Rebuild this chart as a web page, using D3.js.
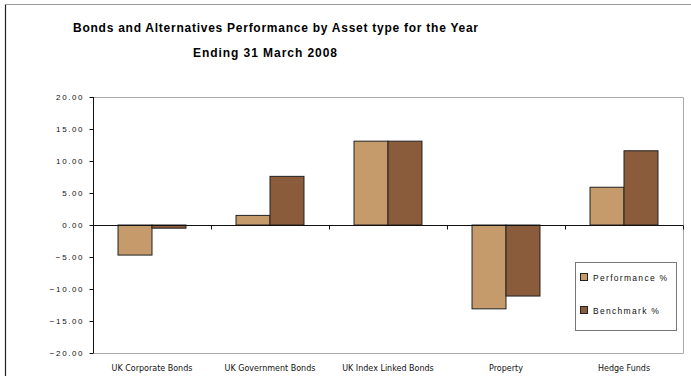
<!DOCTYPE html>
<html>
<head>
<meta charset="utf-8">
<script src="https://cdn.jsdelivr.net/npm/d3@7/dist/d3.min.js"></script>
<style>
  html, body { margin: 0; padding: 0; background: #fff; }
  svg { display: block; }
</style>
</head>
<body>
<svg id="chart" width="691" height="376"></svg>
<script>
// Asset classes and returns for the year to 31 March 2008
const categories = ["UK Corporate Bonds", "UK Government Bonds", "UK Index Linked Bonds", "Property", "Hedge Funds"];
const performance = [-4.7, 1.5, 13.1, -13.1, 5.9];
const benchmark = [-0.5, 7.6, 13.1, -11.1, 11.6];
const seriesNames = ["Performance %", "Benchmark %"];
const seriesColors = ["#C59B6B", "#8A5C3B"];
const yTicks = [20, 15, 10, 5, 0, -5, -10, -15, -20];
const titleLines = ["Bonds and Alternatives Performance by Asset type for the Year", "Ending 31 March 2008"];

const svg = d3.select("#chart");
const plot = { left: 93, right: 683, top: 97, bottom: 353 };

// Outer frame
svg.append("line").attr("x1", 5.5).attr("x2", 5.5).attr("y1", 4).attr("y2", 376)
  .attr("stroke", "#222").attr("stroke-width", 1.2);
svg.append("line").attr("x1", 5).attr("x2", 691).attr("y1", 4.5).attr("y2", 4.5)
  .attr("stroke", "#999").attr("stroke-width", 1);

// Title
svg.append("text").attr("x", 73).attr("y", 32)
  .attr("textLength", 405).attr("lengthAdjust", "spacing")
  .style("font-family", "'Liberation Sans', Arial, sans-serif")
  .style("font-weight", "bold").style("font-size", "12px").attr("fill", "#000")
  .text(titleLines[0]);
svg.append("text").attr("x", 193).attr("y", 57)
  .attr("textLength", 144).attr("lengthAdjust", "spacing")
  .style("font-family", "'Liberation Sans', Arial, sans-serif")
  .style("font-weight", "bold").style("font-size", "12px").attr("fill", "#000")
  .text(titleLines[1]);

// Scales
const x0 = d3.scaleBand().domain(categories).range([plot.left, plot.right])
  .paddingInner(0.424).paddingOuter(0.212);
const x1 = d3.scaleBand().domain(seriesNames).range([0, x0.bandwidth()]);
const y = d3.scaleLinear().domain([-20, 20]).range([plot.bottom, plot.top]);

// Plot area border (top, right, bottom)
svg.append("path")
  .attr("d", `M${plot.left},${plot.top + 0.5}H${plot.right + 0.5}V${plot.bottom + 0.5}H${plot.left}`)
  .attr("fill", "none").attr("stroke", "#aaa").attr("stroke-width", 1);

// Bars
const rows = categories.map((c, i) => ({ cat: c, values: [performance[i], benchmark[i]] }));
const groups = svg.append("g").selectAll("g").data(rows).join("g")
  .attr("transform", d => `translate(${x0(d.cat)},0)`);
groups.selectAll("rect")
  .data(d => d.values.map((v, j) => ({ v, name: seriesNames[j], color: seriesColors[j] })))
  .join("rect")
  .attr("x", d => x1(d.name))
  .attr("width", x1.bandwidth())
  .attr("y", d => Math.min(y(d.v), y(0)))
  .attr("height", d => Math.abs(y(d.v) - y(0)))
  .attr("fill", d => d.color)
  .attr("stroke", "#222").attr("stroke-width", 1);

// Zero line with category separators
const zeroY = Math.round(y(0)) + 0.5;
svg.append("line").attr("x1", plot.left).attr("x2", plot.right)
  .attr("y1", zeroY).attr("y2", zeroY).attr("stroke", "#111").attr("stroke-width", 1);
const step = x0.step();
d3.range(1, categories.length + 1).forEach(k => {
  const xx = Math.round(plot.left + k * step) + 0.5;
  svg.append("line").attr("x1", xx).attr("x2", xx).attr("y1", zeroY).attr("y2", zeroY + 4)
    .attr("stroke", "#111").attr("stroke-width", 1);
});

// Y axis
const yAxis = svg.append("g").attr("transform", `translate(${plot.left + 0.5},0)`)
  .call(d3.axisLeft(y).tickValues(yTicks).tickSize(4).tickPadding(7).tickFormat(d3.format(".2f")));
yAxis.select(".domain").attr("stroke", "#111").attr("d", `M0,${plot.top}V${plot.bottom}`);
yAxis.selectAll(".tick line").attr("stroke", "#111");
yAxis.selectAll(".tick text")
  .style("font-family", "'Liberation Sans', Arial, sans-serif")
  .style("font-size", "8px").style("letter-spacing", "1.6px")
  .attr("fill", "#111").attr("dx", "1.6px");

// Category labels
svg.append("g").selectAll("text").data(categories).join("text")
  .attr("x", d => x0(d) + x0.bandwidth() / 2)
  .attr("y", 371)
  .attr("text-anchor", "middle")
  .style("font-family", "'DejaVu Sans', Verdana, sans-serif")
  .style("font-size", "8px").attr("fill", "#111")
  .text(d => d);

// Legend
const lg = svg.append("g");
lg.append("rect").attr("x", 575.5).attr("y", 262.5).attr("width", 101).attr("height", 68)
  .attr("fill", "#fff").attr("stroke", "#777").attr("stroke-width", 1);
seriesNames.forEach((name, j) => {
  const cy = 278 + j * 33;
  lg.append("rect").attr("x", 580.5).attr("y", cy - 4.5).attr("width", 7).attr("height", 7)
    .attr("fill", seriesColors[j]).attr("stroke", "#222").attr("stroke-width", 1);
  lg.append("text").attr("x", 593).attr("y", cy + 3)
    .style("font-family", "'Liberation Sans', Arial, sans-serif")
    .style("font-size", "8.5px").style("letter-spacing", "1.3px").attr("fill", "#111")
    .text(name);
});
</script>
</body>
</html>
